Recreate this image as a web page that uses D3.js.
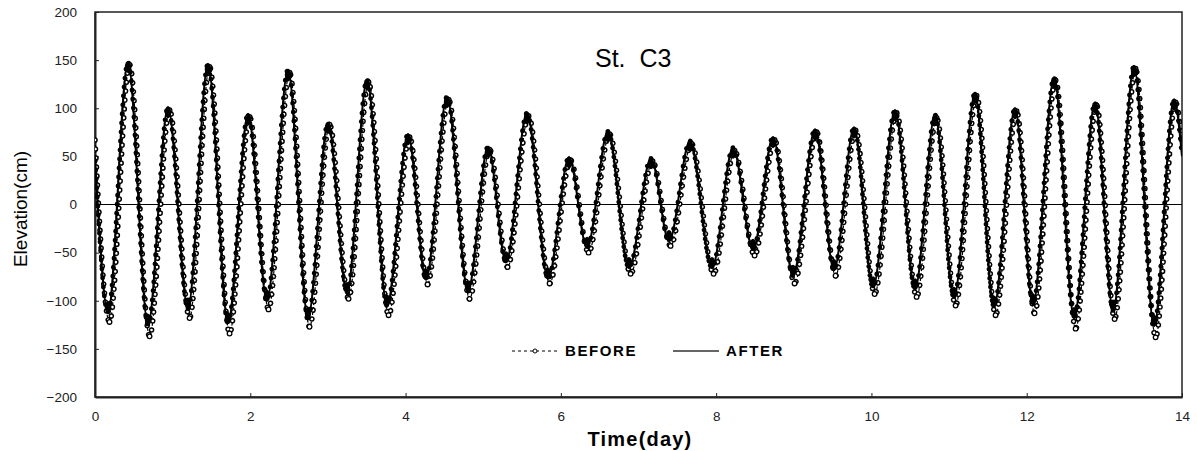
<!DOCTYPE html>
<html>
<head>
<meta charset="utf-8">
<script src="https://cdn.jsdelivr.net/npm/d3@7"></script>
<style>
  body { margin: 0; background: #fff; }
  svg { display: block; font-family: "Liberation Sans", Arial, sans-serif; }
</style>
</head>
<body>
<script>
// extremes (high / low water), time in days, elevation in cm
var afterT = [0, 0.167, 0.425, 0.683, 0.940, 1.198, 1.455, 1.713, 1.971, 2.215, 2.486, 2.743, 3.001, 3.246, 3.503, 3.761, 4.031, 4.263, 4.534, 4.804, 5.062, 5.294, 5.564, 5.835, 6.105, 6.337, 6.607, 6.878, 7.161, 7.393, 7.663, 7.947, 8.217, 8.475, 8.733, 8.990, 9.274, 9.518, 9.776, 10.021, 10.304, 10.562, 10.819, 11.064, 11.334, 11.579, 11.849, 12.081, 12.352, 12.610, 12.880, 13.112, 13.382, 13.640, 13.897, 14];
var afterV = [50, -112, 148, -125, 101, -108, 146, -123, 94, -100, 140, -118, 85, -92, 130, -105, 73, -78, 112, -90, 60, -60, 95, -77, 49, -45, 76, -66, 48, -38, 66, -66, 59, -47, 70, -74, 78, -68, 80, -86, 98, -88, 93, -97, 116, -106, 100, -104, 132, -118, 106, -110, 144, -126, 109, 50];

var beforeT = [0, 0.187, 0.445, 0.703, 0.960, 1.218, 1.475, 1.733, 1.991, 2.235, 2.506, 2.763, 3.021, 3.266, 3.523, 3.781, 4.051, 4.283, 4.554, 4.824, 5.082, 5.314, 5.584, 5.855, 6.125, 6.357, 6.627, 6.898, 7.181, 7.413, 7.683, 7.967, 8.237, 8.495, 8.753, 9.010, 9.294, 9.538, 9.796, 10.041, 10.324, 10.582, 10.839, 11.084, 11.354, 11.599, 11.869, 12.101, 12.372, 12.630, 12.900, 13.132, 13.402, 13.660, 13.917, 14];
var beforeV = [67, -122, 145, -137, 98, -118, 143, -134, 91, -109, 137, -127, 83, -98, 127, -115, 70, -83, 109, -98, 57, -65, 92, -82, 46, -50, 73, -72, 45, -43, 63, -72, 56, -53, 67, -82, 75, -74, 77, -93, 95, -96, 90, -105, 113, -115, 97, -113, 129, -129, 103, -119, 141, -138, 106, 62];

var xTicks = [0, 2, 4, 6, 8, 10, 12, 14];
var yTicks = [-200, -150, -100, -50, 0, 50, 100, 150, 200];
var seriesNames = ["BEFORE", "AFTER"];
var stationName = "St.  C3";

var W = 1197, H = 451;
var margin = { left: 95, top: 12, right: 15, bottom: 54 };
var w = W - margin.left - margin.right, h = H - margin.top - margin.bottom;

var svg = d3.select("body").append("svg").attr("width", W).attr("height", H);
var g = svg.append("g").attr("transform", "translate(" + margin.left + "," + margin.top + ")");

var x = d3.scaleLinear().domain([0, 14]).range([0, w]);
var y = d3.scaleLinear().domain([-200, 200]).range([h, 0]);

svg.append("defs").append("clipPath").attr("id", "plot")
  .append("rect").attr("width", w).attr("height", h);

// frame
g.append("rect").attr("width", w).attr("height", h)
  .attr("fill", "none").attr("stroke", "#222").attr("stroke-width", 1.5);

// zero line
g.append("line").attr("x1", 0).attr("x2", w).attr("y1", y(0)).attr("y2", y(0))
  .attr("stroke", "#000").attr("stroke-width", 1);

// axes, ticks pointing inwards
var yAxis = g.append("g").call(d3.axisLeft(y).tickValues(yTicks).tickSizeInner(-4).tickSizeOuter(0).tickPadding(18));
var xAxis = g.append("g").attr("transform", "translate(0," + h + ")")
  .call(d3.axisBottom(x).tickValues(xTicks).tickSizeInner(-4).tickSizeOuter(0).tickPadding(14));
[yAxis, xAxis].forEach(function (a) {
  a.select(".domain").attr("stroke", "#222").attr("stroke-width", 2);
  a.selectAll(".tick line").attr("stroke", "#222");
  a.selectAll(".tick text").attr("fill", "#222").style("font-size", "13.5px")
    .style("font-family", "'Liberation Sans', Arial, sans-serif");
});

var line = d3.line().curve(d3.curveMonotoneX)
  .x(function (d) { return x(d[0]); })
  .y(function (d) { return y(d[1]); });

var before = d3.zip(beforeT, beforeV);
var after = d3.zip(afterT, afterV);

var curves = g.append("g").attr("clip-path", "url(#plot)");

// BEFORE: dashed line with open circles
curves.append("path").datum(before).attr("d", line)
  .attr("fill", "none").attr("stroke", "#000").attr("stroke-width", 1.2).attr("stroke-dasharray", "3 2");
curves.append("path").datum(before).attr("d", line)
  .attr("fill", "none").attr("stroke", "#000").attr("stroke-width", 5.6)
  .attr("stroke-linecap", "round").attr("stroke-dasharray", "0.01 9");
curves.append("path").datum(before).attr("d", line)
  .attr("fill", "none").attr("stroke", "#fff").attr("stroke-width", 2.6)
  .attr("stroke-linecap", "round").attr("stroke-dasharray", "0.01 9");

// AFTER: solid line with filled dots
curves.append("path").datum(after).attr("d", line)
  .attr("fill", "none").attr("stroke", "#000").attr("stroke-width", 2);
curves.append("path").datum(after).attr("d", line)
  .attr("fill", "none").attr("stroke", "#000").attr("stroke-width", 4.8)
  .attr("stroke-linecap", "round").attr("stroke-dasharray", "0.01 9").attr("stroke-dashoffset", 4.5);

// dense marks at the turning points
curves.selectAll(".bx").data(before.slice(1, -1)).enter().append("circle")
  .attr("cx", function (d) { return x(d[0]); }).attr("cy", function (d) { return y(d[1]); })
  .attr("r", 2.3).attr("fill", "#fff").attr("stroke", "#000").attr("stroke-width", 1.3);
curves.selectAll(".ax").data(after.slice(1, -1)).enter().append("ellipse")
  .attr("cx", function (d) { return x(d[0]); })
  .attr("cy", function (d) { return y(d[1]) + (d[1] > 0 ? 5 : -5); })
  .attr("rx", 3.2).attr("ry", 6).attr("fill", "#000");

// station name
g.append("text").attr("x", 500).attr("y", 55).attr("xml:space", "preserve")
  .style("font-size", "25px").attr("fill", "#000").text(stationName);

// legend
var lg = g.append("g").attr("transform", "translate(0," + (351 - margin.top) + ")");
lg.append("line").attr("x1", 417).attr("x2", 464).attr("stroke", "#000")
  .attr("stroke-width", 1).attr("stroke-dasharray", "3 3");
lg.append("circle").attr("cx", 440).attr("r", 2).attr("fill", "#fff").attr("stroke", "#000");
lg.append("text").attr("x", 470).attr("dy", "0.36em").style("font-size", "15px")
  .style("font-weight", "bold").style("letter-spacing", "1.6px").attr("fill", "#000").text(seriesNames[0]);
lg.append("line").attr("x1", 578).attr("x2", 624).attr("stroke", "#333").attr("stroke-width", 1.5);
lg.append("text").attr("x", 631).attr("dy", "0.36em").style("font-size", "15px")
  .style("font-weight", "bold").style("letter-spacing", "1.6px").attr("fill", "#000").text(seriesNames[1]);

// axis titles
svg.append("text").attr("transform", "translate(27,209) rotate(-90)").attr("text-anchor", "middle")
  .style("font-size", "19px").attr("fill", "#000").text("Elevation(cm)");
svg.append("text").attr("x", 640).attr("y", 446).attr("text-anchor", "middle")
  .style("font-size", "20px").style("font-weight", "bold").style("letter-spacing", "1.2px")
  .attr("fill", "#000").text("Time(day)");
</script>
</body>
</html>
